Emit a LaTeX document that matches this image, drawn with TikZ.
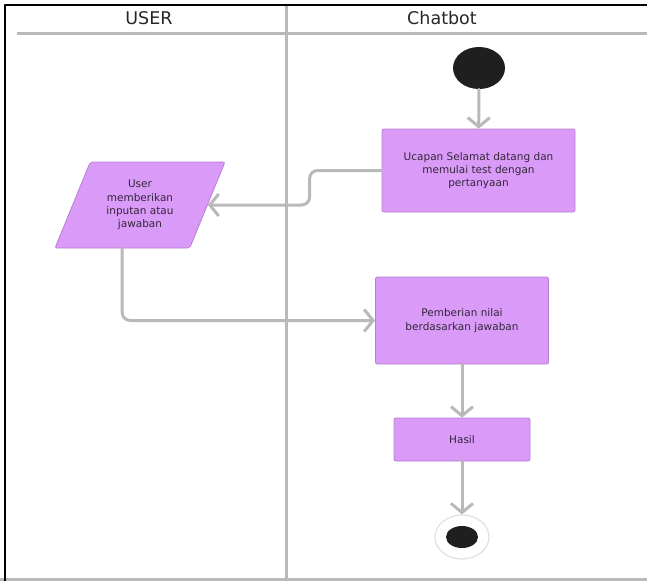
\documentclass[tikz,border=0pt]{standalone}
\usepackage{fontspec}
\setmainfont{DejaVu Sans}
\usetikzlibrary{shapes.geometric,arrows.meta}
\definecolor{lilac}{HTML}{DA9BF8}
\definecolor{lilacline}{HTML}{B77FD3}
\definecolor{wire}{HTML}{B9B9B9}
\definecolor{ink}{HTML}{33263A}
\begin{document}
\begin{tikzpicture}[x=1pt,y=-1pt, line join=round, line cap=round,
  box/.style={draw=lilacline, fill=lilac, rounded corners=2pt, line width=0.8pt, text=ink, align=center, font=\fontsize{10.5}{13.3}\selectfont},
  flow/.style={draw=wire, line width=3pt, -{Straight Barb[length=9pt,width=22pt]}},
  lane/.style={draw=wire, line width=3pt, line cap=butt},
  title/.style={font=\fontsize{17.5}{20}\selectfont, text=black!85}]
\useasboundingbox (0,0) rectangle (647,581);
% swimlanes
\draw[lane] (286,5)--(286,581);
\draw[lane] (17,33)--(647,33);
\draw[lane] (0,579.5)--(647,579.5);
\draw[line width=2.5pt, line cap=butt] (5,581)--(5,5)--(647,5);
\node[title] (user) at (149,18) {USER};
\node[title] (chatbot) at (442,18) {Chatbot};
% activities
\node[ellipse, fill=black!88, minimum width=52, minimum height=42, inner sep=0] (start) at (479,68) {};
\node[box, minimum width=193, minimum height=83] (ucapan) at (478.5,170.5) {Ucapan Selamat datang dan\\memulai test dengan\\pertanyaan};
\node[box, trapezium, trapezium left angle=58, trapezium right angle=122, trapezium stretches body, minimum width=170, minimum height=86] (input) at (140,205) {User\\memberikan\\inputan atau\\jawaban};
\node[box, minimum width=173, minimum height=87] (nilai) at (462,320.5) {Pemberian nilai\\berdasarkan jawaban};
\node[box, minimum width=136, minimum height=43] (hasil) at (462,439.5) {Hasil};
\node[ellipse, draw=black!12, line width=1.2pt, minimum width=54, minimum height=44] (end) at (462,537) {};
\node[ellipse, fill=black!88, minimum width=32, minimum height=22, inner sep=0] (endDot) at (end) {};
% flows
\draw[flow] (start) -- (ucapan);
\draw[flow, rounded corners=8] (ucapan.west) -- ++(-72,0) |- (input.right side);
\draw[flow, rounded corners=8] (input.bottom side) |- (nilai.west);
\draw[flow] (nilai) -- (hasil);
\draw[flow] (hasil) -- (end);
\end{tikzpicture}
\end{document}
